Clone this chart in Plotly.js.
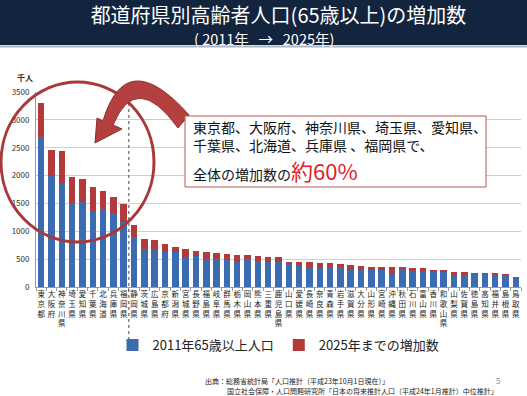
<!DOCTYPE html>
<html>
<head>
<meta charset="utf-8">
<script src="https://cdn.plot.ly/plotly-3.0.1.min.js"></script>
<style>html,body{margin:0;padding:0;background:#fff;}#chart{width:527px;height:396px;}</style>
</head>
<body>
<div id="chart"></div>
<script>
const prefectures = ["東京都","大阪府","神奈川県","埼玉県","愛知県","千葉県","北海道","兵庫県","福岡県","静岡県","茨城県","広島県","京都府","新潟県","宮城県","長野県","福島県","岐阜県","群馬県","栃木県","岡山県","熊本県","三重県","鹿児島県","山口県","愛媛県","長崎県","奈良県","青森県","岩手県","滋賀県","大分県","山形県","宮崎県","沖縄県","秋田県","石川県","富山県","香川県","和歌山県","山梨県","佐賀県","徳島県","高知県","福井県","島根県","鳥取県"];
const elderly2011 = [2700,2000,1860,1500,1530,1370,1395,1310,1160,905,675,690,625,625,525,565,500,500,480,447,500,468,452,455,410,385,366,345,355,368,298,327,309,297,231,315,280,285,261,268,219,219,225,231,213,219,159];
const increaseTo2025 = [610,455,585,475,410,420,320,300,330,205,195,160,155,100,160,85,125,110,110,135,75,95,85,75,45,65,80,85,70,45,90,48,45,54,120,36,60,48,48,35,42,42,30,24,36,12,24];
const seriesNames = ["2011年65歳以上人口","2025年までの増加数"];
const yTicks = [0,500,1000,1500,2000,2500,3000,3500];

const FONT = "'Noto Sans CJK JP', 'Noto Sans', sans-serif";
const W = 527, H = 396;
const L = 36, R = 521, T = 92, B = 287;
const px = x => (x - L) / (R - L);
const py = y => (B - y) / (B - T);
const pt = (x, y) => px(x).toFixed(4) + "," + py(y).toFixed(4);

const tickText = prefectures.map(n => n.split("").join("<br>"));

const traces = [
  {type:"bar", name:seriesNames[0], x:prefectures, y:elderly2011,
   marker:{color:"#3b6cb1"}, hoverinfo:"skip"},
  {type:"bar", name:seriesNames[1], x:prefectures, y:increaseTo2025,
   marker:{color:"#b33a3b"}, hoverinfo:"skip"}
];

const arrowPath = "M " + pt(103,121) + " Q " + pt(126,44) + " " + pt(189,115) +
  " L " + pt(178,128) + " Q " + pt(136,70) + " " + pt(113,125) +
  " L " + pt(122,129) + " L " + pt(95,143) + " L " + pt(97,118) + " Z";

const shapes = [
  {type:"rect", xref:"paper", yref:"paper", x0:px(-2), x1:px(W+2), y0:py(45), y1:py(-2), fillcolor:"#13243e", line:{width:0}},
  {type:"line", xref:"paper", yref:"paper", x0:px(-2), x1:px(W+2), y0:py(46.5), y1:py(46.5), line:{color:"#aab6c3", width:2}},
  {type:"line", xref:"x", yref:"paper", x0:8.5, x1:8.5, y0:py(346), y1:py(82), line:{color:"#444", width:1, dash:"dot"}},
  {type:"circle", xref:"paper", yref:"paper", x0:px(1), x1:px(154), y0:py(242), y1:py(82), line:{color:"#a8383a", width:3}},
  {type:"path", xref:"paper", yref:"paper", path:arrowPath, fillcolor:"#b3403f", line:{color:"#8c2c2c", width:1}},
  {type:"rect", xref:"paper", yref:"paper", x0:px(185), x1:px(486), y0:py(187), y1:py(116), fillcolor:"#ffffff", line:{color:"#b85450", width:1}}
];

const annotations = [
  {xref:"paper", yref:"paper", x:px(263.5), y:py(38.5), text:"(\u00a02011年\u00a0\u00a0\u00a0→\u00a0\u00a0\u00a02025年)", showarrow:false,
   xanchor:"center", yanchor:"middle", font:{family:FONT, size:14.5, color:"#ffffff"}},
  {xref:"paper", yref:"paper", x:px(25), y:py(77), text:"<b>千人</b>", showarrow:false,
   xanchor:"center", yanchor:"middle", font:{family:FONT, size:8, color:"#333"}},
  {xref:"paper", yref:"paper", x:px(191), y:py(135.5), align:"left",
   text:"東京都、大阪府、神奈川県、埼玉県、愛知県、<br>千葉県、北海道、兵庫県 、福岡県で、", showarrow:false,
   xanchor:"left", yanchor:"middle", font:{family:FONT, size:14, color:"#111"}},
  {xref:"paper", yref:"paper", x:px(191), y:py(170), text:"全体の増加数の<span style='color:#e0222a;font-size:22px'>約60%</span>", showarrow:false,
   xanchor:"left", yanchor:"middle", font:{family:FONT, size:14, color:"#111"}},
  {xref:"paper", yref:"paper", x:px(203), y:py(381), text:"出典：総務省統計局「人口推計（平成23年10月1日現在）」", showarrow:false,
   xanchor:"left", yanchor:"middle", font:{family:FONT, size:7, color:"#222"}},
  {xref:"paper", yref:"paper", x:px(225), y:py(391), text:"国立社会保障・人口問題研究所「日本の将来推計人口（平成24年1月推計）中位推計」", showarrow:false,
   xanchor:"left", yanchor:"middle", font:{family:FONT, size:7, color:"#222"}},
  {xref:"paper", yref:"paper", x:px(498), y:py(380), text:"5", showarrow:false,
   xanchor:"center", yanchor:"middle", font:{family:FONT, size:8, color:"#888"}}
];

const layout = {
  width:W, height:H,
  margin:{l:L, r:W-R, t:T, b:H-B, pad:0, autoexpand:false},
  paper_bgcolor:"#ffffff", plot_bgcolor:"#ffffff",
  font:{family:FONT, color:"#222"},
  title:{text:"都道府県別高齢者人口(65歳以上)の増加数", x:0.5, xref:"paper", xanchor:"center",
         y:1-16/H, yref:"container", yanchor:"middle", font:{family:FONT, size:20, color:"#ffffff"}},
  barmode:"stack", bargap:0.37,
  showlegend:true,
  legend:{orientation:"h", x:0.5, xanchor:"center", y:py(345), yanchor:"middle",
          font:{family:FONT, size:13, color:"#222"}, traceorder:"normal", itemwidth:30, bgcolor:"rgba(0,0,0,0)"},
  xaxis:{type:"category", range:[-0.5, prefectures.length-0.5], tickmode:"array", tickvals:prefectures, ticktext:tickText,
         tickfont:{family:FONT, size:7.5, color:"#222"}, tickangle:0, showgrid:false, showline:true, linecolor:"#9a9a9a",
         ticks:"outside", tickson:"boundaries", ticklen:3, tickcolor:"#9a9a9a", zeroline:false, fixedrange:true, automargin:false},
  yaxis:{range:[0,3500], tickmode:"array", tickvals:yTicks, ticktext:yTicks.map(String),
         tickfont:{family:FONT, size:8, color:"#333"}, showgrid:true, gridcolor:"#cfcfcf", gridwidth:1,
         showline:true, linecolor:"#9a9a9a", ticks:"", zeroline:false, fixedrange:true, ticklabelstandoff:4, automargin:false},
  shapes:shapes,
  annotations:annotations
};

Plotly.newPlot("chart", traces, layout, {staticPlot:true, displayModeBar:false});
</script>
</body>
</html>
